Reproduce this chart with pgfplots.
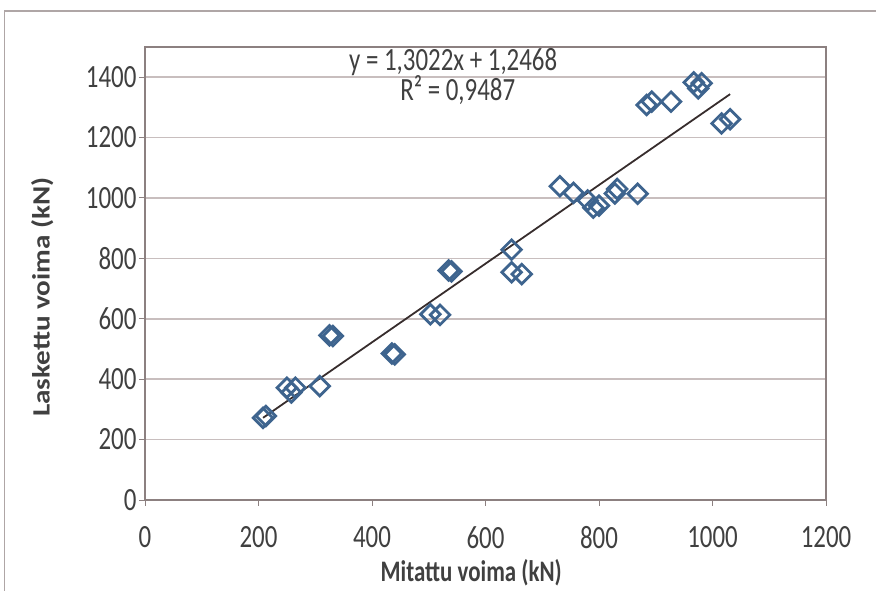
\documentclass[border=0pt]{standalone}
\usepackage{fontspec}
\setmainfont{Carlito}
\usepackage{pgfplots}
\pgfplotsset{compat=1.18}
\definecolor{mk}{RGB}{62,100,142}
\definecolor{frm}{RGB}{140,128,128}
\definecolor{grd}{RGB}{200,190,190}
\definecolor{txt}{RGB}{64,64,64}
\definecolor{trend}{RGB}{55,45,45}
\begin{document}
\begin{tikzpicture}
\useasboundingbox (0,0) rectangle (876bp,591bp);
\draw[color=frm!70, line width=1.2bp] (4.5bp,-5bp) -- (4.5bp,580bp) -- (880bp,580bp);
\begin{axis}[
  at={(145bp,91bp)}, anchor=south west,
  scale only axis, width=681bp, height=453bp,
  xmin=0, xmax=1200, ymin=0, ymax=1500,
  xtick={0,200,...,1200}, ytick={0,200,...,1400},
  xtick pos=bottom, ytick pos=left,
  tick align=outside, major tick length=6bp,
  tick style={color=frm, line width=1bp},
  axis line style={color=frm, line width=1.2bp},
  ymajorgrids, grid style={color=grd, line width=1.5bp},
  /pgf/number format/assume math mode=true,
  /pgf/number format/1000 sep={},
  ticklabel style={font=\fontsize{25}{28}\selectfont, text=txt},
  xticklabel={\scalebox{1}[1.3]{\pgfmathprintnumber{\tick}}},
  yticklabel={\scalebox{1}[1.3]{\pgfmathprintnumber{\tick}}},
  xticklabel style={yshift=-17bp},
  yticklabel style={xshift=1bp},
  xlabel={\scalebox{1}[1.3]{\textbf{Mitattu voima (kN)}}},
  ylabel={\scalebox{1.17}[1]{\textbf{Laskettu voima (kN)}}},
  xlabel style={at={(axis description cs:0.479,-0.161)}, anchor=center, font=\fontsize{23}{26}\selectfont, text=txt},
  ylabel style={at={(axis description cs:-0.151,0.448)}, anchor=center, rotate=0, font=\fontsize{25}{28}\selectfont, text=txt},
  clip=false,
]
\addplot[trend, line width=1.8bp] coordinates {(208,272.1) (1031,1343.8)};
\addplot[only marks, mark=square, mark size=6.9bp,
  mark options={rotate=45, draw=mk, fill=white, line width=2.8bp}]
coordinates {
(208,272) (213,278)
(250,372) (258,356) (265,372)
(308,377)
(325,545) (331,543)
(435,485) (440,482)
(503,615) (520,613)
(535,760) (540,757)
(646,829) (646,754) (664,748)
(731,1039) (755,1017) (780,992) (790,968) (800,975)
(828,1015) (832,1030) (868,1014)
(884,1308) (893,1319) (927,1319)
(967,1383) (975,1363) (981,1380)
(1016,1247) (1031,1261)
};
\node[font=\fontsize{25}{28}\selectfont, text=txt] at (axis cs:543,1450) {\scalebox{1}[1.3]{y = 1,3022x + 1,2468}};
\node[font=\fontsize{25}{28}\selectfont, text=txt] at (axis cs:551,1356) {\scalebox{1}[1.3]{R² = 0,9487}};
\end{axis}
\end{tikzpicture}
\end{document}
